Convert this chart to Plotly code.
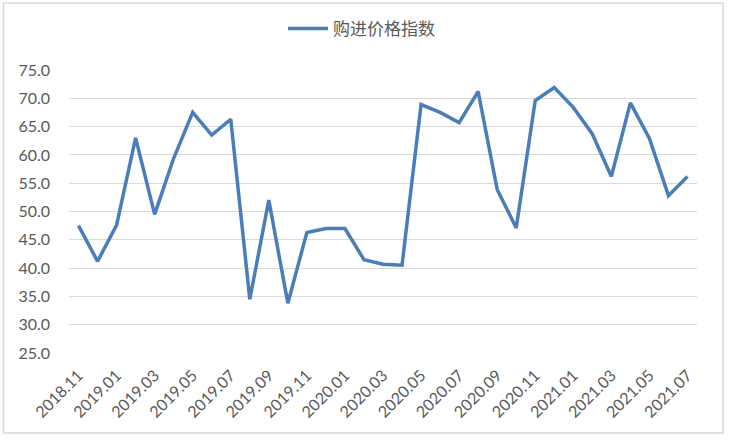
import plotly.graph_objects as go

months = ["2018.11", "2018.12",
          "2019.01", "2019.02", "2019.03", "2019.04", "2019.05", "2019.06",
          "2019.07", "2019.08", "2019.09", "2019.10", "2019.11", "2019.12",
          "2020.01", "2020.02", "2020.03", "2020.04", "2020.05", "2020.06",
          "2020.07", "2020.08", "2020.09", "2020.10", "2020.11", "2020.12",
          "2021.01", "2021.02", "2021.03", "2021.04", "2021.05", "2021.06",
          "2021.07"]
purchase_price_index = [47.5, 41.2, 47.6, 63.0, 49.5, 59.4, 67.5, 63.5,
                        66.3, 34.5, 52.0, 33.8, 46.3, 47.0, 47.0, 41.5,
                        40.7, 40.5, 68.9, 67.5, 65.7, 71.2, 53.9, 47.1,
                        69.6, 71.9, 68.4, 63.7, 56.2, 69.2, 62.9, 52.8,
                        56.2]
tick_labels = months[::2]
series_name = "购进价格指数"

fig = go.Figure()
fig.add_trace(go.Scatter(
    x=months, y=purchase_price_index, mode="lines", name=series_name,
    line=dict(color="#4A7EBB", width=3.5),
))

font_family = "Lato, 'Liberation Sans', sans-serif"
fig.update_layout(
    width=729, height=442,
    margin=dict(l=69, r=32, t=70, b=89, autoexpand=False),
    paper_bgcolor="white", plot_bgcolor="white",
    showlegend=True,
    legend=dict(orientation="h", x=(283 - 69) / 628, xanchor="left", y=1.145, yanchor="middle",
                bgcolor="rgba(0,0,0,0)",
                font=dict(family="'Noto Sans CJK SC', sans-serif", size=17, color="#595959"),
                itemwidth=40),
    xaxis=dict(type="category", range=[-0.5, len(months) - 0.5], automargin=False,
               tickmode="array", tickvals=tick_labels, ticktext=tick_labels,
               tickangle=-45, showgrid=False, zeroline=False, showline=False,
               ticks="", ticklabelstandoff=9,
               tickfont=dict(family=font_family, size=16, color="#595959")),
    yaxis=dict(range=[25, 75], dtick=5, tickformat=".1f", automargin=False,
               showgrid=True, gridcolor="#D9D9D9", gridwidth=1,
               zeroline=False, showline=False, ticks="", ticklabelstandoff=18,
               tickfont=dict(family=font_family, size=16, color="#595959")),
    shapes=[dict(type="rect", xref="paper", yref="paper",
                 x0=(3.5 - 69) / 628, x1=(723 - 69) / 628,
                 y0=(353 - 433) / 283, y1=(353 - 3) / 283,
                 line=dict(color="#D9D9D9", width=1.5), fillcolor="rgba(0,0,0,0)")],
)

fig.write_html("out.html", config={"displayModeBar": False},
               post_script="document.body.style.margin='0';")
